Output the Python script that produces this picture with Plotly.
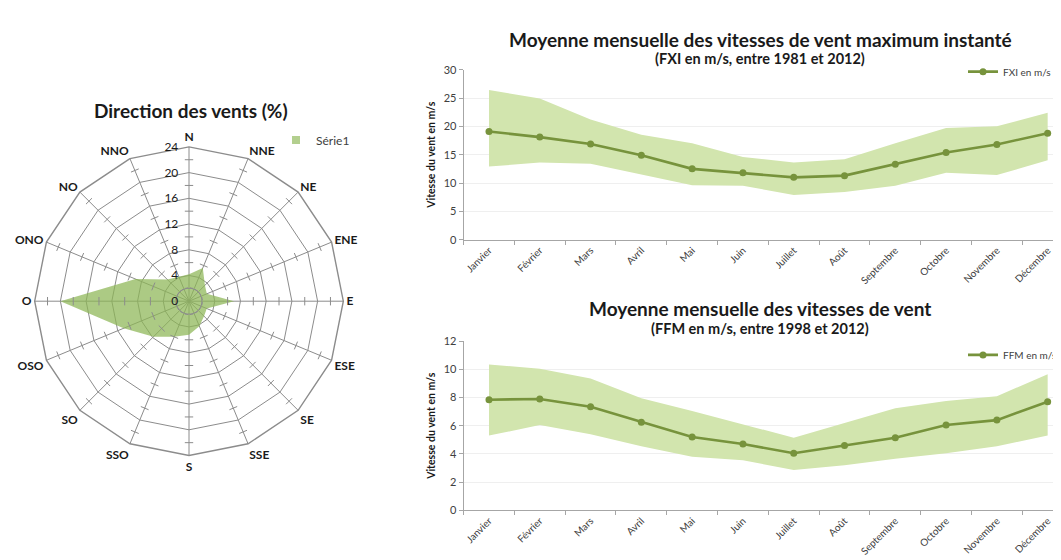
import plotly.graph_objects as go

# --- data ---
directions = ['N', 'NNE', 'NE', 'ENE', 'E', 'ESE', 'SE', 'SSE',
              'S', 'SSO', 'SO', 'OSO', 'O', 'ONO', 'NO', 'NNO']
freq = [4.2, 5.6, 3.5, 3.0, 7.0, 3.0, 3.3, 4.2,
        5.2, 6.0, 7.8, 11.0, 20.0, 9.0, 4.8, 4.1]
radial_ticks = [0, 4, 8, 12, 16, 20, 24]

months = ['Janvier', 'Février', 'Mars', 'Avril', 'Mai', 'Juin', 'Juillet',
          'Août', 'Septembre', 'Octobre', 'Novembre', 'Décembre']
fxi_mean = [19.1, 18.1, 16.9, 14.9, 12.5, 11.8, 11.0, 11.3, 13.3, 15.4, 16.8, 18.8]
fxi_high = [26.4, 24.9, 21.2, 18.5, 17.0, 14.6, 13.6, 14.2, 17.0, 19.7, 20.0, 22.4]
fxi_low = [12.9, 13.6, 13.4, 11.5, 9.6, 9.5, 7.9, 8.4, 9.5, 11.8, 11.4, 14.0]

ffm_mean = [7.85, 7.9, 7.35, 6.25, 5.2, 4.7, 4.05, 4.6, 5.15, 6.05, 6.4, 7.7]
ffm_high = [10.35, 10.05, 9.35, 7.95, 7.05, 6.1, 5.15, 6.2, 7.25, 7.75, 8.1, 9.65]
ffm_low = [5.3, 6.05, 5.4, 4.55, 3.8, 3.55, 2.85, 3.2, 3.65, 4.05, 4.55, 5.3]

W, H = 1061, 560
FONT = 'Lato'
GRID = '#8c8c8c'
LINE_GREEN = '#77933c'
BAND_GREEN = '#d2e5ae'
RADAR_FILL = 'rgba(140,182,85,0.72)'
TXT = '#404040'
DARK = '#1a1a1a'


def px_x(x):
    return x / W


def px_y(y):
    return 1 - y / H


fig = go.Figure()

# ---------------- radar ----------------
fig.add_trace(go.Scatterpolar(
    r=freq + [freq[0]], theta=directions + [directions[0]],
    mode='none', fill='toself', fillcolor=RADAR_FILL,
    showlegend=False, hoverinfo='r+theta'))
# legend entry with a small square like the original
fig.add_trace(go.Scatterpolar(
    r=[None], theta=[directions[0]], mode='markers', name='Série1', legend='legend',
    marker=dict(symbol='square', size=8, color='#b3cf8e')))

# little tick marks half-way between rings, on every spoke
mid = [(a + b) / 2 for a, b in zip(radial_ticks[:-1], radial_ticks[1:])]
tick_r, tick_t, tick_a = [], [], []
for i, d in enumerate(directions):
    for m in mid:
        tick_r.append(m)
        tick_t.append(d)
        tick_a.append(i * 360 / len(directions))
fig.add_trace(go.Scatterpolar(
    r=tick_r, theta=tick_t, mode='markers', showlegend=False, hoverinfo='skip',
    marker=dict(symbol='line-ew', size=6, angle=tick_a,
                line=dict(color=GRID, width=1))))

cx, cy, rad = 181, 293, 158
fig.update_layout(polar=dict(
    domain=dict(x=[px_x(cx - rad), px_x(cx + rad)], y=[px_y(cy + rad), px_y(cy - rad)]),
    gridshape='linear', bgcolor='white',
    angularaxis=dict(type='category', categoryarray=directions, rotation=90,
                     direction='clockwise', showline=True, linecolor=GRID,
                     linewidth=1.4, gridcolor=GRID, ticks='',
                     tickfont=dict(family=FONT, size=12, color=DARK, weight='bold')),
    # invisible ticks push the labels off the north spoke, to its left
    radialaxis=dict(range=[0, 24], tickvals=radial_ticks, angle=90, tickangle=90,
                    side='counterclockwise', showline=False, gridcolor=GRID,
                    ticks='outside', ticklen=6, tickcolor='rgba(0,0,0,0)',
                    tickfont=dict(family=FONT, size=12, color=DARK))))

# ---------------- line charts ----------------
def add_band(low, high, mean, name, xa, ya, leg):
    fig.add_trace(go.Scatter(x=months, y=low, mode='lines', line=dict(width=0),
                             showlegend=False, hoverinfo='skip', xaxis=xa, yaxis=ya))
    fig.add_trace(go.Scatter(x=months, y=high, mode='lines', line=dict(width=0),
                             fill='tonexty', fillcolor=BAND_GREEN,
                             showlegend=False, hoverinfo='skip', xaxis=xa, yaxis=ya))
    fig.add_trace(go.Scatter(x=months, y=mean, mode='lines+markers', name=name,
                             line=dict(color=LINE_GREEN, width=2.6),
                             marker=dict(color=LINE_GREEN, size=7),
                             xaxis=xa, yaxis=ya, legend=leg))


add_band(fxi_low, fxi_high, fxi_mean, 'FXI en m/s', 'x', 'y', 'legend2')
add_band(ffm_low, ffm_high, ffm_mean, 'FFM en m/s', 'x2', 'y2', 'legend3')

xcommon = dict(type='category', categoryarray=months, range=[-0.5, 11.42],
               domain=[px_x(455.6), 1], showgrid=False, showline=True,
               linecolor='#a6a6a6', linewidth=1, ticks='outside', tickson='boundaries',
               ticklen=4, tickcolor='#a6a6a6', tickangle=-45,
               tickfont=dict(family=FONT, size=10, color=TXT))
ycommon = dict(showgrid=True, gridcolor='#efefef', showline=True, linecolor='#a6a6a6',
               ticks='outside', ticklen=4, tickcolor='#a6a6a6', zeroline=False,
               tickfont=dict(family=FONT, size=11, color=TXT),
               title=dict(text='Vitesse du vent en m/s', standoff=5,
                          font=dict(family=FONT, size=10.5, color=DARK, weight='bold')))

fig.update_layout(
    xaxis=dict(xcommon, anchor='y'),
    yaxis=dict(ycommon, domain=[px_y(230), px_y(56)], range=[0, 30], dtick=5, anchor='x'),
    xaxis2=dict(xcommon, anchor='y2'),
    yaxis2=dict(ycommon, domain=[px_y(507), px_y(334)], range=[0, 12], dtick=2, anchor='x2'),
)

# titles
titles = [
    ('Direction des vents (%)', 183, 98, 19),
    ('Moyenne mensuelle des vitesses de vent maximum instanté', 752, 25, 19),
    ('(FXI en m/s, entre 1981 et 2012)', 752, 45, 14.5),
    ('Moyenne mensuelle des vitesses de vent', 752, 300, 19),
    ('(FFM en m/s, entre 1998 et 2012)', 752, 321, 14.5),
]
for text, x, y, size in titles:
    fig.add_annotation(text=text, x=px_x(x), y=px_y(y), xref='paper', yref='paper',
                       showarrow=False, xanchor='center', yanchor='middle',
                       font=dict(family=FONT, size=size, color=DARK, weight='bold'))

legend_base = dict(bgcolor='rgba(0,0,0,0)', xanchor='left', yanchor='middle',
                   itemwidth=30, font=dict(family=FONT, size=10, color=TXT))
fig.update_layout(
    legend=dict(legend_base, x=px_x(268), y=px_y(128),
                font=dict(family=FONT, size=12, color=TXT)),
    legend2=dict(legend_base, x=px_x(955), y=px_y(58)),
    legend3=dict(legend_base, x=px_x(955), y=px_y(348)),
    width=W, height=H, margin=dict(l=0, r=0, t=0, b=0),
    paper_bgcolor='white', plot_bgcolor='white',
    font=dict(family=FONT, color=TXT),
)

fig.write_html('out.html')
